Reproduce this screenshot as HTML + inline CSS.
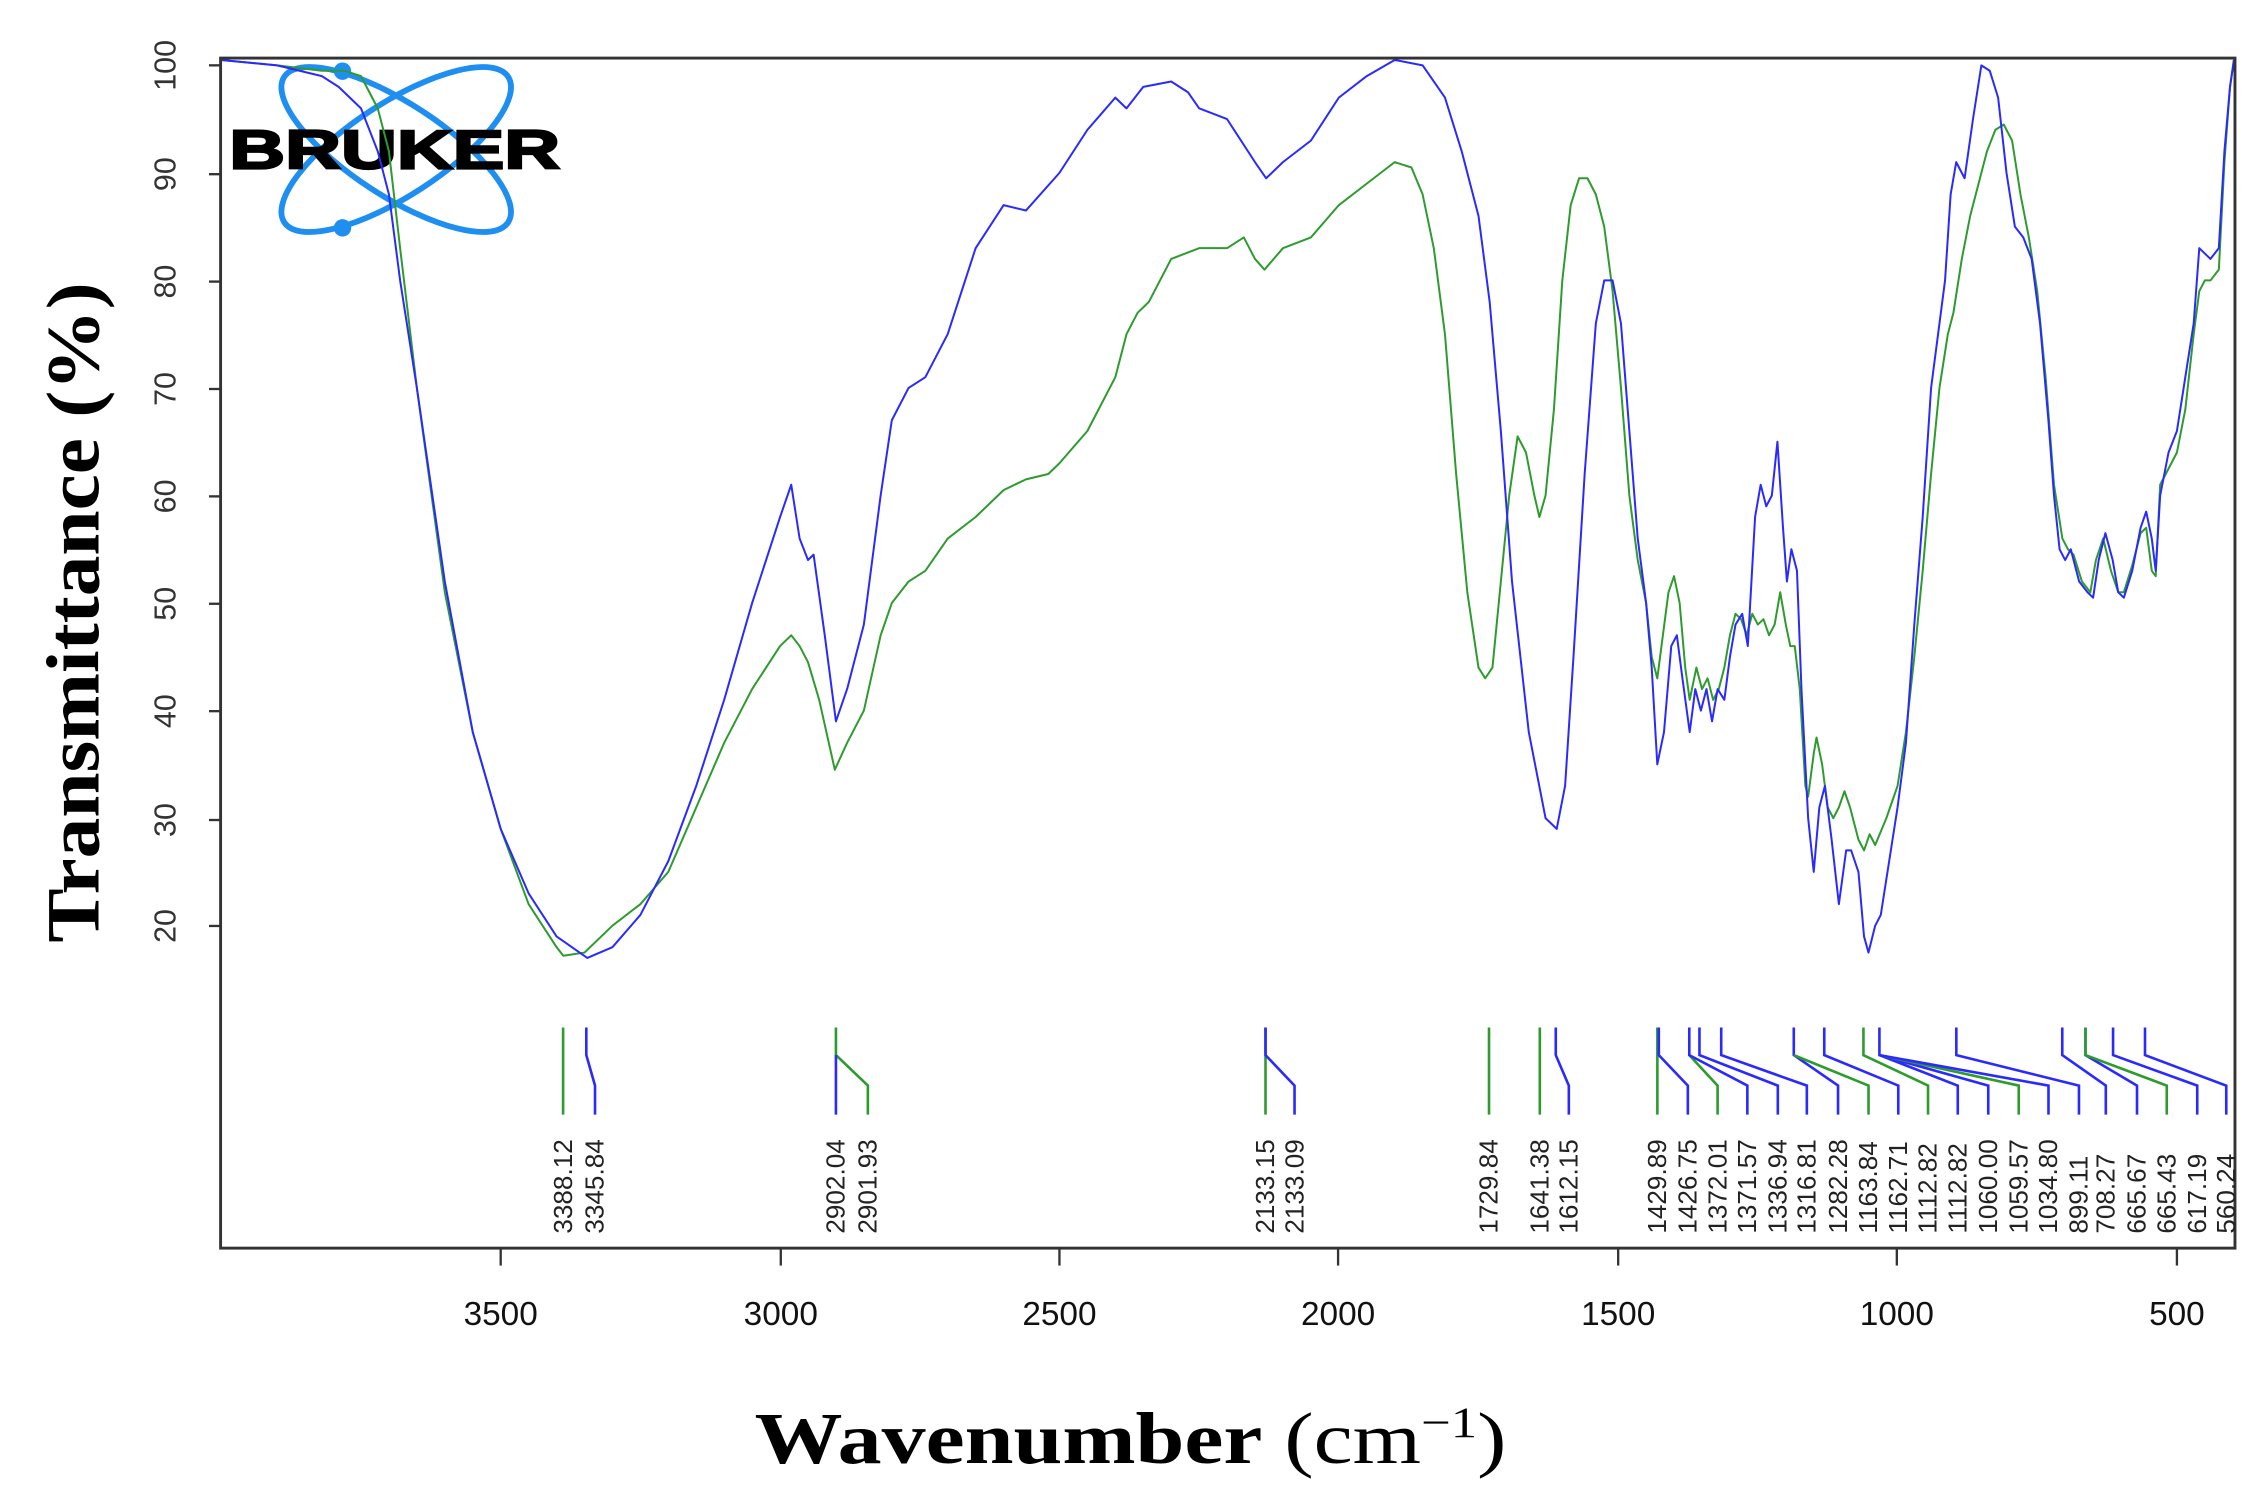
<!DOCTYPE html>
<html><head><meta charset="utf-8"><style>html,body{margin:0;padding:0;background:#fff}svg{display:block}</style></head>
<body>
<svg width="2264" height="1492" viewBox="0 0 1560 1028" xmlns="http://www.w3.org/2000/svg" font-family="Liberation Sans, sans-serif">
<rect width="1560" height="1028" fill="#fff"/>
<g>
<ellipse cx="273" cy="103" rx="92" ry="32" transform="rotate(33 273 103)" fill="none" stroke="#1e8ff0" stroke-width="4"/>
<ellipse cx="273" cy="103" rx="92" ry="32" transform="rotate(-33 273 103)" fill="none" stroke="#1e8ff0" stroke-width="4"/>
<circle cx="236" cy="49" r="6" fill="#1e8ff0"/><circle cx="236" cy="157" r="6" fill="#1e8ff0"/>
<text x="158" y="116" font-size="38" font-weight="bold" textLength="228" lengthAdjust="spacingAndGlyphs" stroke="#000" stroke-width="1.5">BRUKER</text>
</g>
<g transform="matrix(-0.385 0 0 -7.41 1692.5 786)" fill="none" stroke-linejoin="round">
<path vector-effect="non-scaling-stroke" stroke="#2e9b2e" stroke-width="2" d="M4000,100.5 L3900,100 3820,99.5 3780,99.5 3750,99 3720,96 3700,92 3680,83 3650,70 3600,51 3550,38 3500,29 3450,22 3400,18 3388,17.2 3350,17.5 3300,20 3250,22 3200,25 3150,31 3100,37 3050,42 3000,46 2980,47 2965,46 2950,44.5 2930,41 2902,34.5 2880,37 2850,40 2820,47 2800,50 2770,52 2740,53 2700,56 2650,58 2600,60.5 2560,61.5 2520,62 2500,63 2450,66 2400,71 2380,75 2360,77 2340,78 2300,82 2250,83 2200,83 2170,84 2150,82 2133,81 2100,83 2050,84 2000,87 1950,89 1900,91 1870,90.5 1850,88 1830,83 1810,75 1790,62 1770,51 1750,44 1738,43 1725,44 1710,52 1695,60 1680,65.5 1665,64 1650,60 1641,58 1630,60 1615,68 1600,80 1585,87 1570,89.5 1555,89.5 1540,88 1525,85 1510,79 1495,70 1480,60 1465,54 1450,50 1440,45 1430,43 1420,47 1410,51 1400,52.5 1390,50 1380,44 1372,41 1360,44 1350,42 1340,43 1330,41 1320,42 1310,44 1300,47 1290,49 1280,48.5 1270,47 1260,49 1250,48 1240,48.5 1230,47 1220,48 1210,51 1200,48 1192,46 1184,46 1175,42 1165,33 1160,32 1150,36 1145,37.5 1135,35 1125,31 1115,30 1105,31 1095,32.5 1085,31 1070,28 1060,27 1050,28.5 1040,27.5 1020,30 1000,33 985,38 970,45 955,53 940,62 925,70 910,75 900,77 885,82 870,86 855,89 840,92 825,94 810,94.5 795,93 780,88 765,84 750,79 735,71 720,61 705,56 695,55 685,54.5 670,52 655,51 645,54 632,56 618,53 605,51 595,51 580,53.5 565,56.5 555,57 545,53 538,52.5 530,61 515,62.5 500,64 485,68 470,75 460,79 450,80 440,80 425,81 415,91 405,98 398,100.5"/>
<path vector-effect="non-scaling-stroke" stroke="#2a2aff" stroke-width="2" d="M4000,100.5 L3900,100 3820,99 3790,98 3750,96 3720,92 3700,88 3680,80 3650,70 3600,52 3550,38 3500,29 3450,23 3400,19 3345,17 3300,18 3250,21 3200,26 3150,33 3100,41 3050,50 3000,58 2980,61 2965,56 2950,54 2940,54.5 2920,47 2900,39 2880,42 2850,48 2820,60 2800,67 2770,70 2740,71 2700,75 2650,83 2600,87 2560,86.5 2500,90 2450,94 2400,97 2380,96 2350,98 2300,98.5 2270,97.5 2250,96 2200,95 2150,91 2130,89.5 2100,91 2050,93 2000,97 1950,99 1900,100.5 1850,100 1810,97 1780,92 1750,86 1730,78 1710,66 1690,52 1660,38 1630,30 1610,29 1595,33 1580,45 1560,62 1540,76 1525,80 1510,80 1495,76 1480,66 1465,56 1450,50 1440,44 1430,35 1418,38 1405,46 1395,47 1385,43 1372,38 1362,42 1352,40 1342,42 1332,39 1322,42 1310,41 1300,45 1290,48 1278,49 1268,46 1255,58 1245,61 1235,59 1225,60 1215,65 1205,57 1198,52 1190,55 1180,53 1172,42 1160,30 1150,25 1140,31 1130,33 1118,28 1105,22 1092,27 1083,27 1070,25 1060,19 1052,17.5 1040,20 1030,21 1015,26 1000,31 985,37 970,48 955,58 940,70 925,76 915,80 905,88 895,91 880,89.5 865,95 850,100 835,99.5 820,97 805,90 790,85 775,84 760,82 745,76 730,67 720,60 710,55 700,54 690,55 675,52 660,51 650,50.5 640,54 628,56.5 615,54 605,51 595,50.5 580,53 565,57 555,58.5 545,56 538,53 530,60 515,64 500,66 485,71 470,76 460,83 450,82.5 440,82 425,83 415,92 405,98 398,100.5"/>
</g>
<g fill="none" stroke-width="1.8">
<polyline stroke="#2e9b2e" points="388,708 388,768"/>
<polyline stroke="#2a2aff" points="404,708 404,727 410,748 410,768"/>
<polyline stroke="#2e9b2e" points="576,708 576,727 598,748 598,768"/>
<polyline stroke="#2a2aff" points="576,727 576,768"/>
<polyline stroke="#2e9b2e" points="872,708 872,768"/>
<polyline stroke="#2a2aff" points="872,708 872,727 892,748 892,768"/>
<polyline stroke="#2e9b2e" points="1026,708 1026,768"/>
<polyline stroke="#2e9b2e" points="1061,708 1061,768"/>
<polyline stroke="#2a2aff" points="1072,708 1072,727 1081,748 1081,768"/>
<polyline stroke="#2e9b2e" points="1142,708 1142,768"/>
<polyline stroke="#2a2aff" points="1143,708 1143,727 1163,748 1163,768"/>
<polyline stroke="#2e9b2e" points="1164,727 1183.5,748 1183.5,768"/>
<polyline stroke="#2a2aff" points="1164,708 1164,727 1204,748 1204,768"/>
<polyline stroke="#2a2aff" points="1171,708 1171,727 1225,748 1225,768"/>
<polyline stroke="#2a2aff" points="1186,708 1186,727 1245,748 1245,768"/>
<polyline stroke="#2a2aff" points="1236,708 1236,727 1266.5,748 1266.5,768"/>
<polyline stroke="#2e9b2e" points="1236,727 1287.5,748 1287.5,768"/>
<polyline stroke="#2a2aff" points="1257,708 1257,727 1308,748 1308,768"/>
<polyline stroke="#2e9b2e" points="1284,708 1284,727 1328.5,748 1328.5,768"/>
<polyline stroke="#2a2aff" points="1295,708 1295,727 1349,748 1349,768"/>
<polyline stroke="#2a2aff" points="1295,727 1370,748 1370,768"/>
<polyline stroke="#2e9b2e" points="1295,727 1391,748 1391,768"/>
<polyline stroke="#2a2aff" points="1295,727 1411.5,748 1411.5,768"/>
<polyline stroke="#2a2aff" points="1348,708 1348,727 1432.5,748 1432.5,768"/>
<polyline stroke="#2a2aff" points="1421,708 1421,727 1451,748 1451,768"/>
<polyline stroke="#2a2aff" points="1437,708 1437,727 1472.5,748 1472.5,768"/>
<polyline stroke="#2e9b2e" points="1437,708 1437,727 1493,748 1493,768"/>
<polyline stroke="#2a2aff" points="1456,708 1456,727 1514,748 1514,768"/>
<polyline stroke="#2a2aff" points="1478,708 1478,727 1534,748 1534,768"/>
</g>
<rect x="152" y="40" width="1388" height="820" fill="none" stroke="#333" stroke-width="2"/>
<g stroke="#333" stroke-width="1.6">
<line x1="144" y1="45" x2="152" y2="45"/><line x1="144" y1="120" x2="152" y2="120"/><line x1="144" y1="194" x2="152" y2="194"/>
<line x1="144" y1="268" x2="152" y2="268"/><line x1="144" y1="342" x2="152" y2="342"/><line x1="144" y1="416" x2="152" y2="416"/>
<line x1="144" y1="490" x2="152" y2="490"/><line x1="144" y1="565" x2="152" y2="565"/><line x1="144" y1="638" x2="152" y2="638"/>
<line x1="345" y1="860" x2="345" y2="872"/><line x1="538" y1="860" x2="538" y2="872"/><line x1="730" y1="860" x2="730" y2="872"/>
<line x1="922" y1="860" x2="922" y2="872"/><line x1="1115" y1="860" x2="1115" y2="872"/><line x1="1307" y1="860" x2="1307" y2="872"/><line x1="1500" y1="860" x2="1500" y2="872"/>
</g>
<g fill="#333" font-size="21" text-anchor="middle">
<text transform="translate(121,45) rotate(-90)">100</text>
<text transform="translate(121,120) rotate(-90)">90</text>
<text transform="translate(121,194) rotate(-90)">80</text>
<text transform="translate(121,268) rotate(-90)">70</text>
<text transform="translate(121,342) rotate(-90)">60</text>
<text transform="translate(121,416) rotate(-90)">50</text>
<text transform="translate(121,490) rotate(-90)">40</text>
<text transform="translate(121,565) rotate(-90)">30</text>
<text transform="translate(121,638) rotate(-90)">20</text>
</g>
<g fill="#111" font-size="23" text-anchor="middle">
<text x="345" y="913">3500</text><text x="538" y="913">3000</text><text x="730" y="913">2500</text>
<text x="922" y="913">2000</text><text x="1115" y="913">1500</text><text x="1307" y="913">1000</text><text x="1500" y="913">500</text>
</g>
<text transform="translate(68,422) rotate(-90)" text-anchor="middle" font-family="Liberation Serif, serif" font-weight="bold" font-size="52" textLength="455" lengthAdjust="spacingAndGlyphs">Transmittance (%)</text>
<text x="520" y="1008" font-family="Liberation Serif, serif" font-size="50" textLength="518" lengthAdjust="spacingAndGlyphs"><tspan font-weight="bold">Wavenumber</tspan> (cm<tspan font-size="30" dy="-18">−1</tspan><tspan dy="18">)</tspan></text>
<g font-size="18" fill="#222">
<text transform="translate(394,850) rotate(-90)">3388.12</text>
<text transform="translate(416,850) rotate(-90)">3345.84</text>
<text transform="translate(582,850) rotate(-90)">2902.04</text>
<text transform="translate(604,850) rotate(-90)">2901.93</text>
<text transform="translate(878,850) rotate(-90)">2133.15</text>
<text transform="translate(898,850) rotate(-90)">2133.09</text>
<text transform="translate(1032,850) rotate(-90)">1729.84</text>
<text transform="translate(1067,850) rotate(-90)">1641.38</text>
<text transform="translate(1087,850) rotate(-90)">1612.15</text>
<text transform="translate(1148,850) rotate(-90)">1429.89</text>
<text transform="translate(1169,850) rotate(-90)">1426.75</text>
<text transform="translate(1189.5,850) rotate(-90)">1372.01</text>
<text transform="translate(1210,850) rotate(-90)">1371.57</text>
<text transform="translate(1231,850) rotate(-90)">1336.94</text>
<text transform="translate(1251,850) rotate(-90)">1316.81</text>
<text transform="translate(1272.5,850) rotate(-90)">1282.28</text>
<text transform="translate(1293.5,850) rotate(-90)">1163.84</text>
<text transform="translate(1314,850) rotate(-90)">1162.71</text>
<text transform="translate(1334.5,850) rotate(-90)">1112.82</text>
<text transform="translate(1355,850) rotate(-90)">1112.82</text>
<text transform="translate(1376,850) rotate(-90)">1060.00</text>
<text transform="translate(1397,850) rotate(-90)">1059.57</text>
<text transform="translate(1417.5,850) rotate(-90)">1034.80</text>
<text transform="translate(1438.5,850) rotate(-90)">899.11</text>
<text transform="translate(1457,850) rotate(-90)">708.27</text>
<text transform="translate(1478.5,850) rotate(-90)">665.67</text>
<text transform="translate(1499,850) rotate(-90)">665.43</text>
<text transform="translate(1520,850) rotate(-90)">617.19</text>
<text transform="translate(1540,850) rotate(-90)">560.24</text>
</g>
</svg>
</body></html>
